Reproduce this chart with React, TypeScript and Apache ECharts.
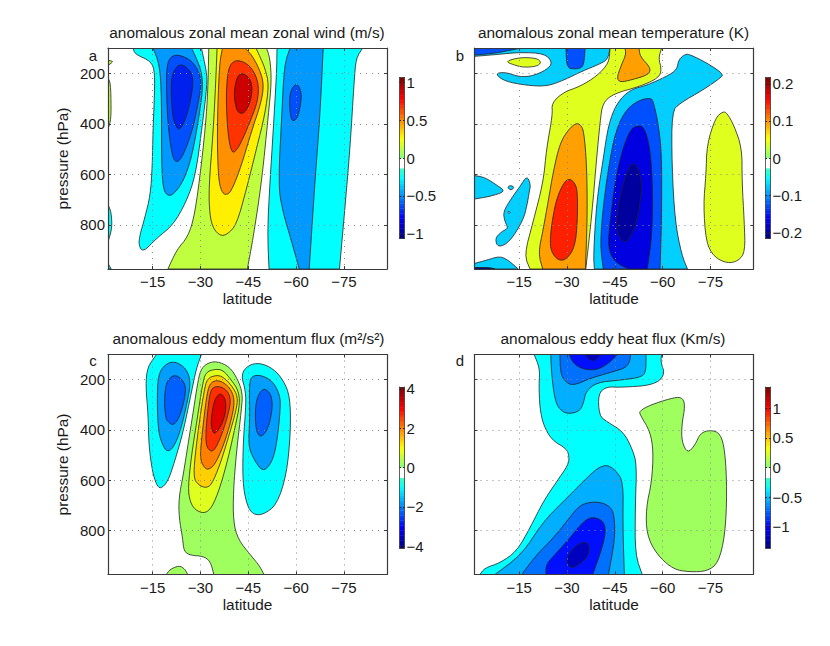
import React, { useEffect, useRef } from "react";
import * as echarts from "echarts";

type Pt = number[];

// Shared axes (latitude in degrees, pressure in hPa)
const LAT_NEAR = -1;
const LAT_FAR = -88.5;
const P_TOP = 100;
const P_BOTTOM = 975;
const latTicks = [-15, -30, -45, -60, -75];
const pressureTicks = [200, 400, 600, 800];

const titles = [
  "anomalous zonal mean zonal wind (m/s)",
  "anomalous zonal mean temperature (K)",
  "anomalous eddy momentum flux (m²/s²)",
  "anomalous eddy heat flux (Km/s)",
];
const panelLetters = ["a", "b", "c", "d"];

// Colour bar extents and labelled ticks
const barExtents = [1.06, 0.217, 4.1, 1.36];
const barTicks = [
  [-1, -0.5, 0, 0.5, 1],
  [-0.2, -0.1, 0, 0.1, 0.2],
  [-4, -2, 0, 2, 4],
  [-1, -0.5, 0, 0.5, 1],
];

// ---- Panel a: zonal wind contours [lat, hPa]
const aCyanLeft: Pt[] = [[-8.9,100],[-9.4,124],[-14.6,153],[-15.7,199],[-15.5,312],[-15.1,430],[-14.9,563],[-14.3,682],[-12.5,774],[-11,840],[-10.6,880],[-12,909],[-16.2,854],[-21.4,801],[-25.6,708],[-28.5,602],[-30.6,404],[-32.1,245],[-31.9,193],[-30.3,100]];
const aBlue1Left: Pt[] = [[-15.1,100],[-17.2,166],[-17.8,298],[-17.8,563],[-18.3,655],[-19.5,684],[-21.4,682],[-24.6,629],[-27.2,536],[-29.3,391],[-30.8,259],[-30.3,193],[-28.7,140],[-27.2,100]];
const aBlue2Left: Pt[] = [[-21.9,124],[-19.5,153],[-19.3,259],[-19.8,404],[-20.9,510],[-21.9,549],[-23.3,549],[-25.1,510],[-27.7,417],[-29.8,285],[-30.3,226],[-28.7,173],[-26.1,140]];
const aBlue3Left: Pt[] = [[-23.5,162],[-21.4,193],[-20.7,245],[-21.2,364],[-21.9,397],[-23.2,428],[-25.1,391],[-26.9,312],[-27.9,219],[-26.1,179]];
const aEdgeGreen1: Pt[] = [[-1,149],[-2.8,153],[-1,169]];
const aEdgeGreen2: Pt[] = [[-1,219],[-1.8,239],[-2,338],[-1.8,391],[-1,420]];
const aEdgeCyan1: Pt[] = [[-1,721],[-2,748],[-2.3,814],[-1,867]];
const aEdgeCyan2: Pt[] = [[-1,953],[-2,975],[-1,975]];
const aGreen: Pt[] = [[-32.6,100],[-32.4,232],[-31.9,364],[-30.3,563],[-28.2,761],[-26.1,847],[-22.5,900],[-19.8,975],[-44.7,975],[-46.5,854],[-49.2,629],[-51.3,364],[-52.3,232],[-51.8,140],[-50.7,100]];
const aYellow: Pt[] = [[-35.2,100],[-34.8,232],[-34,430],[-32.6,655],[-32.9,761],[-34,814],[-36.1,843],[-38.2,840],[-41.3,801],[-44.5,655],[-47.6,497],[-50.2,364],[-51.5,245],[-50.2,179],[-48.6,133],[-47.4,100]];
const aOrange: Pt[] = [[-36.9,100],[-35.9,166],[-35.2,430],[-35.6,616],[-36.6,668],[-37.9,683],[-39.7,668],[-42.9,563],[-46,430],[-49,318],[-49.9,245],[-48.6,186],[-46,126],[-43.9,100]];
const aRedOrange: Pt[] = [[-40.8,146],[-38.7,179],[-38,285],[-38.5,430],[-39.7,516],[-41.3,507],[-43.4,457],[-46,378],[-47.9,312],[-48.3,252],[-47.1,199],[-44.5,159]];
const aDarkRed: Pt[] = [[-42.9,197],[-41.3,219],[-40.5,278],[-41,331],[-41.9,358],[-43.9,358],[-45.7,312],[-46.3,259],[-45.5,219]];
const aCyanRight: Pt[] = [[-54,100],[-53.9,193],[-52.8,430],[-51.8,629],[-51,827],[-51.5,975],[-73.6,975],[-75.3,735],[-76.9,497],[-78.2,232],[-78.8,140],[-80.9,100]];
const aBlue1Right: Pt[] = [[-58.1,100],[-56.3,166],[-55.5,364],[-54.4,642],[-55.8,748],[-58.6,867],[-61,975],[-64.1,975],[-64.6,880],[-65.9,629],[-67.5,364],[-68.5,100]];
const aBlue2Right: Pt[] = [[-60.4,239],[-58.6,259],[-57.9,298],[-58.1,358],[-58.7,391],[-60.4,380],[-61.4,325],[-61.7,278]];

// ---- Panel b: temperature contours
const bSky1Top: Pt[] = [[-1,133],[-7.9,126],[-15.2,117],[-23.1,122],[-25.5,159],[-23.6,186],[-19.4,210],[-15.2,215],[-10.5,195],[-7.4,202],[-10.5,232],[-17.3,248],[-23.6,252],[-28.9,228],[-35.1,190],[-39.8,166],[-42.8,146],[-43.5,100],[-1,100]];
const bBlueBand: Pt[] = [[-1,100],[-1,128],[-7.4,121],[-13.7,105],[-15.8,100]];
const bBlueTop: Pt[] = [[-29.7,100],[-29.9,166],[-30.9,183],[-34.1,182],[-35.3,166],[-35.7,100]];
const bLimeTopLeft: Pt[] = [[-10.7,153],[-15.2,137],[-20.5,140],[-22,157],[-20.5,173],[-16.3,177],[-13.1,166]];
const bLimeMain: Pt[] = [[-43.5,100],[-43.2,159],[-39.3,212],[-34.1,252],[-28.9,275],[-25.2,318],[-25.5,364],[-23.6,497],[-22.6,629],[-19.4,787],[-16.6,920],[-18.4,975],[-35.9,975],[-37.8,761],[-39.3,536],[-40.4,391],[-41.2,318],[-44.6,281],[-52.9,252],[-58.7,219],[-59.7,186],[-58.7,140],[-59.7,100]];
const bOrangeTop: Pt[] = [[-48.2,100],[-48.5,126],[-47.1,166],[-45.6,219],[-46.7,236],[-50.3,226],[-55.6,206],[-56.3,179],[-52.9,133],[-52.6,100]];
const bOrangeMain: Pt[] = [[-32.8,397],[-30.4,424],[-27.8,477],[-25.7,589],[-24.1,708],[-22.6,814],[-21,913],[-22.4,975],[-35.8,975],[-36.4,761],[-36.2,563],[-35.3,430],[-34.3,404]];
const bRed: Pt[] = [[-30.7,616],[-28.9,635],[-26.8,695],[-25.5,774],[-24.7,854],[-25,906],[-27.3,942],[-29.9,937],[-32.5,887],[-33.3,787],[-33.3,668],[-32.5,635]];
const bSky1Main: Pt[] = [[-67.1,124],[-65,146],[-64.5,186],[-61.3,212],[-55,248],[-49.8,265],[-45.6,318],[-43,404],[-41.4,536],[-39.3,708],[-38.3,920],[-38.6,975],[-67.8,975],[-66,920],[-63.9,787],[-62.9,563],[-62.9,351],[-65.5,318],[-72.8,265],[-78.1,219],[-79.1,203],[-73.9,159],[-68.6,126]];
const bBlue2: Pt[] = [[-56.3,298],[-52.9,305],[-48.7,341],[-45.6,417],[-43.5,536],[-41.4,721],[-40.4,880],[-41.4,975],[-59.2,975],[-59.7,761],[-59.7,523],[-58.7,404],[-57.1,312]];
const bBlue3: Pt[] = [[-51.9,408],[-49.8,424],[-47.2,510],[-45.1,629],[-43.5,787],[-42.8,893],[-45.1,949],[-49.3,975],[-55.2,975],[-56.7,840],[-56.9,655],[-56.1,497],[-54.2,411]];
const bNavy: Pt[] = [[-51.2,553],[-49.3,573],[-47.2,655],[-45.6,761],[-45.6,827],[-47.7,872],[-49.6,856],[-51.9,787],[-53.5,668],[-53,600]];
const bLimeRight: Pt[] = [[-78.9,351],[-76.5,378],[-73.9,483],[-73.6,602],[-72.8,721],[-73.6,867],[-76,926],[-80.2,953],[-83.8,943],[-85.9,906],[-85.6,787],[-84.9,629],[-84.9,497],[-82.3,404],[-80.2,358]];
const bSkyEdge: Pt[] = [[-1,605],[-4.2,612],[-7.9,642],[-10.8,668],[-5.8,688],[-1,698]];
const bSkyDot: Pt[] = [[-11.3,651],[-12.3,643],[-13.6,652],[-12.3,664]];
const bSkyIsland: Pt[] = [[-17.5,605],[-15.2,649],[-12.6,695],[-10,748],[-10.5,787],[-11.6,814],[-9.5,827],[-7.4,854],[-8.4,891],[-12.1,867],[-16.3,781],[-17.5,721],[-18.2,668],[-18.6,642]];
const bIslandHole: Pt[] = [[-11.2,748],[-12.3,749],[-11.9,756]];
const bSkyBottom: Pt[] = [[-1,953],[-4.8,940],[-8.9,924],[-11.6,940],[-14.7,975],[-1,975]];
const bDarkBottom: Pt[] = [[-1,969],[-5.8,969],[-7.4,975],[-1,975]];

// ---- Panel c: eddy momentum flux contours
const cCyanLeft: Pt[] = [[-16.2,100],[-13.4,149],[-12.8,222],[-13.6,341],[-13.8,460],[-14.9,565],[-16.2,618],[-17.5,635],[-19.8,605],[-21.9,526],[-24.6,407],[-27.2,248],[-28.7,156],[-30.3,100]];
const cBlue1Left: Pt[] = [[-21.9,126],[-18.8,140],[-16.7,182],[-16.4,288],[-16.8,407],[-18.1,460],[-19.5,487],[-21.4,473],[-23.7,407],[-26.1,275],[-26.9,208],[-25.6,156]];
const cBlue2Left: Pt[] = [[-21.4,182],[-19.3,208],[-18.6,281],[-19.1,354],[-19.8,367],[-21.4,383],[-23.3,354],[-25.1,275],[-25.4,222],[-23.5,189]];
const cCyanRight: Pt[] = [[-42.7,179],[-45,142],[-48.6,133],[-52.8,156],[-56,202],[-58.1,268],[-58.3,407],[-57,579],[-53.9,698],[-49.7,737],[-46.5,737],[-44.5,698],[-43.2,605],[-43.4,446],[-44.2,314],[-44.2,248]];
const cBlue1Right: Pt[] = [[-46,185],[-45.3,222],[-45.5,354],[-45,460],[-46.5,512],[-49.5,568],[-52.3,532],[-53.9,460],[-55.1,314],[-54.9,261],[-52.8,208],[-49.2,182]];
const cBlue2Right: Pt[] = [[-49.5,235],[-47.6,275],[-47.1,341],[-47.6,413],[-49.2,429],[-51.3,393],[-52.6,314],[-52.3,268],[-51.3,245]];
const cGreen: Pt[] = [[-35,126],[-31.9,136],[-30,162],[-29,222],[-27.9,314],[-26.4,433],[-24.6,579],[-23.2,671],[-23.3,750],[-24.4,830],[-24.8,883],[-26.9,899],[-30.8,902],[-33.1,922],[-34.2,975],[-49.9,975],[-48.6,942],[-46,902],[-41.8,836],[-40.3,764],[-40.3,645],[-41.3,486],[-42.9,314],[-43.2,255],[-41.8,202],[-39.2,149]];
const cGreenFoot: Pt[] = [[-19.3,975],[-20.4,955],[-23.3,939],[-25.1,953],[-26,975]];
const cLime: Pt[] = [[-34.5,158],[-31.6,171],[-30.6,222],[-29,354],[-27.2,499],[-26.1,631],[-26.7,684],[-28.2,717],[-31.1,733],[-33.5,711],[-36.1,631],[-38.7,512],[-40.8,393],[-42.4,294],[-41.8,241],[-39.7,202],[-37.1,162]];
const cAmber: Pt[] = [[-35,182],[-32.1,195],[-31.1,248],[-29.8,354],[-28.2,512],[-27.9,592],[-29.3,618],[-31.6,631],[-33.5,618],[-36.1,539],[-38.7,433],[-41.1,327],[-41.8,268],[-39.7,222],[-37.1,189]];
const cOrange: Pt[] = [[-35,202],[-32.9,215],[-31.9,268],[-30.6,407],[-29.8,512],[-31.1,549],[-32.4,559],[-34.5,539],[-37.1,466],[-39.4,374],[-40.8,288],[-39.7,241],[-37.3,211]];
const cRedOrange: Pt[] = [[-34.8,226],[-33.1,241],[-32.1,341],[-31.6,433],[-32.1,473],[-33.8,489],[-35.6,453],[-37.9,374],[-39.5,294],[-39,255],[-37.1,231]];
const cRed: Pt[] = [[-36.1,253],[-34.3,281],[-33.3,360],[-33.5,393],[-34.3,419],[-36.1,393],[-37.6,347],[-38.1,301],[-37.5,268]];

// ---- Panel d: eddy heat flux contours
const dCyan: Pt[] = [[-19.7,100],[-21.5,156],[-21.2,222],[-21.5,314],[-22.6,380],[-25.2,440],[-29.9,475],[-30.7,506],[-30.4,539],[-26.8,605],[-22.6,684],[-18.4,790],[-14.2,883],[-9,929],[-4.2,949],[-2.7,975],[-53.6,975],[-51.4,896],[-51.4,711],[-51.9,539],[-50.6,479],[-47.7,407],[-42.5,367],[-40.1,343],[-39.8,255],[-42.5,228],[-46.7,231],[-57.1,222],[-60.8,182],[-59.4,129],[-59.7,100]];
const dBlue1Top: Pt[] = [[-24.9,100],[-25.2,182],[-26.2,281],[-27.8,321],[-30.4,337],[-34.1,325],[-35.3,288],[-35.9,248],[-39.3,211],[-46.7,202],[-54,189],[-54.8,156],[-54.8,100]];
const dBlue2Top: Pt[] = [[-27.8,100],[-28,182],[-30.4,219],[-33,219],[-37.2,195],[-43.5,172],[-49.3,149],[-50,100]];
const dBlue3Top: Pt[] = [[-30.7,100],[-32,136],[-35.1,159],[-39.3,162],[-43,136],[-45.8,100]];
const dNavyTop: Pt[] = [[-35.7,100],[-36.9,120],[-38.8,125],[-40.7,100]];
const dBlue1Low: Pt[] = [[-41.4,542],[-38.8,559],[-34.1,618],[-28.9,684],[-22.6,764],[-15.8,896],[-7.4,975],[-48,975],[-47.5,777],[-47.7,605],[-45.1,559],[-43,542]];
const dBlue2Low: Pt[] = [[-36.7,688],[-33.6,704],[-29.9,764],[-25.7,830],[-20.5,896],[-15.8,975],[-43,975],[-45.1,830],[-44.8,737],[-43.5,704],[-40.4,687]];
const dBlue3Low: Pt[] = [[-37.8,746],[-35.1,764],[-30.9,830],[-26.2,896],[-23.4,935],[-23.4,975],[-38.1,975],[-41.4,856],[-42.2,790],[-40.9,757]];
const dNavyLow: Pt[] = [[-34.1,850],[-31.5,876],[-29.7,916],[-30.9,951],[-33.6,938],[-36.7,902],[-37,863],[-36.2,847]];
const dGreen: Pt[] = [[-52.7,325],[-56.1,301],[-62.4,275],[-66,268],[-67.1,301],[-66,380],[-66,446],[-67.8,493],[-70.2,460],[-71.8,413],[-74.9,400],[-78.1,413],[-79.6,486],[-80.2,645],[-79.6,817],[-77.5,929],[-73.9,962],[-68.6,965],[-63.4,955],[-58.2,896],[-55,817],[-54.8,711],[-56.6,605],[-57.1,486],[-56.1,407],[-53,341]];

// Draw order, each contour with its colour-level index
const panelContours: [Pt[], number][][] = [
  [[aCyanLeft,0],[aBlue1Left,1],[aBlue2Left,2],[aBlue3Left,3],[aEdgeGreen1,4],[aEdgeGreen2,4],[aEdgeCyan1,0],[aEdgeCyan2,0],[aGreen,4],[aYellow,5],[aOrange,6],[aRedOrange,7],[aDarkRed,8],[aCyanRight,0],[aBlue1Right,1],[aBlue2Right,2]],
  [[bSky1Top,0],[bBlueBand,1],[bBlueTop,1],[bLimeTopLeft,4],[bLimeMain,4],[bOrangeTop,5],[bOrangeMain,5],[bRed,6],[bSky1Main,0],[bBlue2,1],[bBlue3,2],[bNavy,3],[bLimeRight,4],[bSkyEdge,0],[bSkyDot,0],[bSkyIsland,0],[bIslandHole,7],[bSkyBottom,0],[bDarkBottom,3]],
  [[cCyanLeft,0],[cBlue1Left,1],[cBlue2Left,2],[cCyanRight,0],[cBlue1Right,1],[cBlue2Right,2],[cGreen,3],[cGreenFoot,3],[cLime,4],[cAmber,5],[cOrange,6],[cRedOrange,7],[cRed,8]],
  [[dCyan,0],[dBlue1Top,1],[dBlue2Top,2],[dBlue3Top,3],[dNavyTop,4],[dBlue1Low,1],[dBlue2Low,2],[dBlue3Low,3],[dNavyLow,4],[dGreen,5]],
];

const palettes = [
  ["#00FFFF","#0099FF","#0050FF","#0020EE","#BFFF40","#FFEF00","#FF9000","#FF3300","#CC0000"],
  ["#00CFFF","#0050FF","#0000E0","#00009F","#DFFF1F","#FFA000","#FF2000","#FFFFFF"],
  ["#00FFFF","#009FFF","#0060FF","#9FFF5F","#DFFF1F","#FFCF00","#FF8000","#FF3000","#DF0000"],
  ["#00FFFF","#00AFFF","#0070FF","#0010FF","#0000BF","#9FFF5F"],
];

// Layout
const FONT = "'Liberation Sans', Arial, sans-serif";
const TEXT = "#1a1a1a";
const FRAME = "#3a3a3a";
const TICK_SIZE = 15;
const NAME_SIZE = 15.4;
const plotBoxes = [
  { left: 108, top: 48, width: 279, height: 221 },
  { left: 474.5, top: 48, width: 279, height: 221 },
  { left: 108, top: 354.5, width: 279, height: 220 },
  { left: 474.5, top: 354.5, width: 279, height: 220 },
];
const barBoxes = [
  { left: 399.5, top: 77.5, width: 5, height: 161 },
  { left: 765.5, top: 77.5, width: 5, height: 161 },
  { left: 399.5, top: 387, width: 5, height: 161 },
  { left: 765.5, top: 387, width: 5, height: 161 },
];
const titleCentres = [[247, 32], [613.5, 32], [248.5, 338], [613, 338]];
const letterPos = [[93, 55], [460, 55], [93, 360], [460, 360]];

const minusFmt = (v: number) => String(v).replace("-", "\u2212");

function jet(t: number): string {
  const c = (x: number) => Math.round(255 * Math.max(0, Math.min(1, 1.5 - Math.abs(4 * t - x))));
  return `rgb(${c(3)},${c(2)},${c(1)})`;
}

const BAR_STEPS = 64;
const barCells = Array.from({ length: BAR_STEPS }, (_, i) => i);

function chaikin(pts: { x: number; y: number; f: boolean }[]) {
  const out: { x: number; y: number; f: boolean }[] = [];
  const n = pts.length;
  for (let i = 0; i < n; i++) {
    const p = pts[i];
    const q = pts[(i + 1) % n];
    if (p.f) out.push(p);
    else out.push({ x: 0.75 * p.x + 0.25 * q.x, y: 0.75 * p.y + 0.25 * q.y, f: false });
    if (!q.f) out.push({ x: 0.25 * p.x + 0.75 * q.x, y: 0.25 * p.y + 0.75 * q.y, f: false });
  }
  return out;
}

function buildOption() {
  const grid: any[] = [];
  const xAxis: any[] = [];
  const yAxis: any[] = [];
  const series: any[] = [];
  const title: any[] = [];

  const frame = { show: true, onZero: false, lineStyle: { color: FRAME, width: 1.2 } };
  const gridDots = { show: true, lineStyle: { color: "#8a8a8a", type: [1, 5], width: 1 } };

  plotBoxes.forEach((box, k) => {
    grid.push({ ...box });
    const gi = grid.length - 1;
    const x0 = xAxis.length;
    const y0 = yAxis.length;
    const hasY = k % 2 === 0;
    const xBase = {
      type: "value", gridIndex: gi, min: LAT_FAR, max: LAT_NEAR, inverse: true, z: 10,
      axisLine: frame,
      axisTick: { show: true, inside: true, length: 3, customValues: latTicks, lineStyle: { color: FRAME } },
    };
    xAxis.push({
      ...xBase, position: "bottom",
      axisLabel: { show: true, customValues: latTicks, formatter: minusFmt, margin: 5, fontFamily: FONT, fontSize: TICK_SIZE, color: TEXT },
      splitLine: gridDots,
      name: "latitude", nameLocation: "middle", nameGap: 22,
      nameTextStyle: { fontFamily: FONT, fontSize: NAME_SIZE, color: TEXT },
    });
    xAxis.push({ ...xBase, position: "top", axisLabel: { show: false }, splitLine: { show: false } });
    const yBase = {
      type: "value", gridIndex: gi, min: P_TOP, max: P_BOTTOM, inverse: true, z: 10,
      axisLine: frame,
      axisTick: { show: true, inside: true, length: 3, customValues: pressureTicks, lineStyle: { color: FRAME } },
    };
    yAxis.push({
      ...yBase, position: "left",
      axisLabel: { show: hasY, customValues: pressureTicks, margin: 3, fontFamily: FONT, fontSize: TICK_SIZE, color: TEXT },
      splitLine: gridDots,
      ...(hasY ? { name: "pressure (hPa)", nameLocation: "middle", nameGap: 38, nameTextStyle: { fontFamily: FONT, fontSize: NAME_SIZE, color: TEXT } } : {}),
    });
    yAxis.push({ ...yBase, position: "right", axisLabel: { show: false }, splitLine: { show: false } });

    const contours = panelContours[k];
    const palette = palettes[k];
    series.push({
      type: "custom", xAxisIndex: x0, yAxisIndex: y0, clip: true, silent: true, z: 2,
      data: contours.map((_, i) => [i]),
      renderItem: (params: any, api: any) => {
        const [pts, level] = contours[params.dataIndex];
        let path = pts.map((p) => {
          const c = api.coord(p);
          const f = p[0] >= LAT_NEAR || p[0] <= LAT_FAR || p[1] <= P_TOP || p[1] >= P_BOTTOM;
          return { x: c[0], y: c[1], f };
        });
        path = chaikin(chaikin(path));
        return {
          type: "polygon",
          shape: { points: path.map((q) => [q.x, q.y]) },
          style: { fill: palette[level], stroke: "#222", lineWidth: 0.8, lineJoin: "round" },
        };
      },
    });

    title.push({
      text: titles[k], left: titleCentres[k][0], top: titleCentres[k][1], padding: 0, textAlign: "center", textVerticalAlign: "middle",
      textStyle: { fontFamily: FONT, fontSize: NAME_SIZE, fontWeight: "normal", color: TEXT },
    });
    title.push({
      text: panelLetters[k], left: letterPos[k][0], top: letterPos[k][1], padding: 0, textAlign: "center", textVerticalAlign: "middle",
      textStyle: { fontFamily: FONT, fontSize: TICK_SIZE, fontWeight: "normal", color: TEXT },
    });
  });

  barBoxes.forEach((box, k) => {
    grid.push({ ...box });
    const gi = grid.length - 1;
    const x0 = xAxis.length;
    const y0 = yAxis.length;
    const ext = barExtents[k];
    const ticks = barTicks[k];
    const thin = { show: true, onZero: false, lineStyle: { color: FRAME, width: 0.8 } };
    const xB = { type: "value", gridIndex: gi, min: 0, max: 1, z: 10, axisLine: thin, axisTick: { show: false }, axisLabel: { show: false }, splitLine: { show: false } };
    xAxis.push({ ...xB, position: "bottom" });
    xAxis.push({ ...xB, position: "top" });
    const yB = {
      type: "value", gridIndex: gi, min: -ext, max: ext, z: 10, axisLine: thin, splitLine: { show: false },
      axisTick: { show: true, inside: true, length: 1.5, customValues: ticks, lineStyle: { color: "#222" } },
    };
    yAxis.push({ ...yB, position: "left", axisLabel: { show: false } });
    yAxis.push({
      ...yB, position: "right",
      axisLabel: { show: true, customValues: ticks, formatter: minusFmt, margin: 2, fontFamily: FONT, fontSize: TICK_SIZE, color: TEXT },
    });
    series.push({
      type: "custom", xAxisIndex: x0, yAxisIndex: y0, silent: true, z: 2,
      data: barCells.map((i) => [i]),
      renderItem: (params: any, api: any) => {
        const i = params.dataIndex;
        const lo = -ext + (2 * ext * i) / BAR_STEPS;
        const hi = -ext + (2 * ext * (i + 1)) / BAR_STEPS;
        const a = api.coord([0, hi]);
        const b = api.coord([1, lo]);
        const white = i >= 28 && i <= 31;
        return {
          type: "rect",
          shape: { x: a[0], y: a[1], width: b[0] - a[0], height: b[1] - a[1] + 0.4 },
          style: { fill: white ? "#fff" : jet(i / (BAR_STEPS - 1)) },
        };
      },
    });
  });

  return { animation: false, backgroundColor: "#fff", title, grid, xAxis, yAxis, series };
}

export default function App() {
  const ref = useRef<HTMLDivElement>(null);
  useEffect(() => {
    document.body.style.margin = "0";
    const chart = echarts.init(ref.current!, undefined, { renderer: "svg" });
    chart.setOption(buildOption() as any);
    return () => chart.dispose();
  }, []);
  return <div ref={ref} style={{ width: 830, height: 646 }} />;
}
